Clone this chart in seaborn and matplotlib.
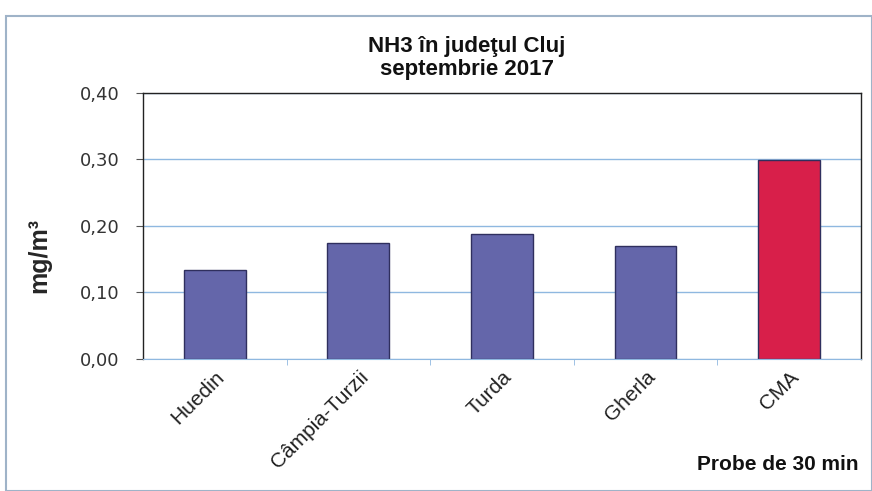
import matplotlib
matplotlib.use("Agg")
import matplotlib.pyplot as plt
import pandas as pd
import seaborn as sns
from matplotlib.patches import Rectangle
from matplotlib.ticker import FuncFormatter, FixedLocator

# Data
stations = ["Huedin", "Câmpia-Turzii", "Turda", "Gherla", "CMA"]
nh3_values = [0.134, 0.174, 0.188, 0.170, 0.299]
bar_colors = ["#6466aa", "#6466aa", "#6466aa", "#6466aa", "#d81f4a"]

df = pd.DataFrame({"Statie": stations, "NH3": nh3_values})

sns.set_style("white")
plt.rcParams["font.family"] = ["Liberation Sans", "DejaVu Sans"]

fig = plt.figure(figsize=(8.72, 4.91), dpi=100)
ax = fig.add_axes([0.164, 0.269, 0.823, 0.542])

sns.barplot(data=df, x="Statie", y="NH3", hue="Statie", palette=bar_colors,
            saturation=1, legend=False, width=0.43, edgecolor="#2f2f5e",
            linewidth=1.0, ax=ax)

ax.set_ylim(0, 0.40)
ax.set_yticks([0.0, 0.1, 0.2, 0.3, 0.4])
ax.yaxis.set_major_formatter(FuncFormatter(lambda v, p: f"{v:.2f}".replace(".", ",")))
ax.grid(axis="y", color="#8fb8e0", linewidth=1.0)
ax.set_axisbelow(True)

for side in ["top", "right", "left"]:
    ax.spines[side].set_color("#222222")
    ax.spines[side].set_linewidth(1.0)
ax.spines["bottom"].set_color("#8fb8e0")

# small tick marks between categories, like the original
ax.xaxis.set_minor_locator(FixedLocator([0.5, 1.5, 2.5, 3.5]))
ax.tick_params(axis="x", which="minor", length=4, color="#8fb8e0", bottom=True)

ax.tick_params(axis="y", labelsize=13, labelcolor="#333333", color="#555555",
               length=5, direction="out", left=True, pad=12)
for lab in ax.get_yticklabels():
    lab.set_family("DejaVu Sans")
ax.tick_params(axis="x", which="major", labelsize=15, colors="#222222", length=0, pad=6)
plt.setp(ax.get_xticklabels(), rotation=45, ha="right", rotation_mode="anchor")

ax.set_ylabel("mg/m³", fontsize=18, fontweight="bold")
ax.yaxis.set_label_coords(-0.128, 0.39)
ax.set_xlabel("")
fig.text(0.985, 0.035, "Probe de 30 min", ha="right", va="bottom",
         fontsize=15, fontweight="bold", color="#111111")
fig.text(0.535, 0.882, "NH3 în judeţul Cluj\nseptembrie 2017", ha="center",
         va="center", fontsize=16, fontweight="bold", linespacing=1.1, color="#111111")

# outer chart frame
fig.patches.append(Rectangle((0.007, 0.0), 0.993, 0.968, transform=fig.transFigure,
                             fill=False, edgecolor="#9fb3c8", linewidth=1.5))

fig.savefig("out.png", dpi=100)
